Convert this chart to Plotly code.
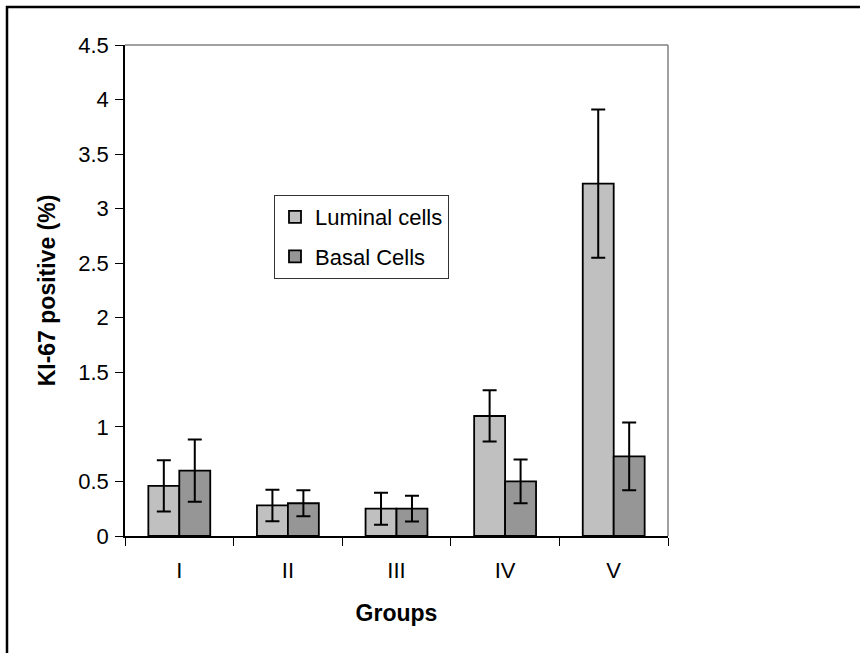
import plotly.graph_objects as go

# Ki-67 labelling index per treatment group
groups = ["I", "II", "III", "IV", "V"]
luminal = [0.46, 0.28, 0.25, 1.10, 3.23]
luminal_err = [0.235, 0.145, 0.147, 0.235, 0.68]
basal = [0.60, 0.30, 0.25, 0.50, 0.73]
basal_err = [0.285, 0.12, 0.118, 0.20, 0.31]
y_ticks = [0, 0.5, 1, 1.5, 2, 2.5, 3, 3.5, 4, 4.5]

FONT = "Liberation Sans, Arial, sans-serif"
W, H = 860, 653
L, R, T, B = 125, 192, 45, 117
pw, ph = W - L - R, H - T - B


def px_x(x):
    return (x - L) / pw


def px_y(y):
    return (H - B - y) / ph


fig = go.Figure()
fig.add_trace(go.Bar(
    x=groups, y=luminal, name="Luminal cells",
    marker=dict(color="#C0C0C0", line=dict(color="black", width=1.8)),
    error_y=dict(type="data", array=luminal_err, color="black", thickness=2, width=7),
    legendgroup="a",
))
fig.add_trace(go.Bar(
    x=groups, y=basal, name="Basal Cells",
    marker=dict(color="#969696", line=dict(color="black", width=1.8)),
    error_y=dict(type="data", array=basal_err, color="black", thickness=2, width=7),
    legendgroup="b",
))

# outer frame (left and top edges of the chart border)
fig.add_shape(type="rect", xref="paper", yref="paper",
              x0=px_x(7), x1=px_x(880), y0=px_y(680), y1=px_y(7),
              line=dict(color="black", width=2.5), layer="below")
# grey top/right edges of the plot area
fig.add_shape(type="line", xref="paper", yref="paper", x0=0, x1=1, y0=1, y1=1,
              line=dict(color="#808080", width=1.5))
fig.add_shape(type="line", xref="paper", yref="paper", x0=1, x1=1, y0=0, y1=1,
              line=dict(color="#808080", width=1.5))

fig.update_layout(
    width=W, height=H,
    margin=dict(l=L, r=R, t=T, b=B),
    paper_bgcolor="white", plot_bgcolor="white",
    barmode="group", bargap=0.43, bargroupgap=0,
    font=dict(family=FONT, color="black", size=22),
    showlegend=True,
    legend=dict(
        x=px_x(274), y=px_y(195), xanchor="left", yanchor="top",
        bgcolor="white", bordercolor="#333333", borderwidth=1,
        font=dict(size=22, family=FONT, color="black"),
        traceorder="grouped", tracegroupgap=8, itemwidth=30,
    ),
    xaxis=dict(
        type="category", range=[-0.5, 4.5],
        showline=True, linecolor="black", linewidth=1.5,
        ticks="outside", ticklen=8, tickcolor="black", tickwidth=1,
        tickson="boundaries", showgrid=False,
        tickfont=dict(size=22), ticklabelstandoff=14,
        title=dict(text="<b>Groups</b>", font=dict(size=23), standoff=23),
    ),
    yaxis=dict(
        range=[0, 4.5], tickvals=y_ticks,
        ticktext=[f"{v:g}" for v in y_ticks],
        showline=True, linecolor="black", linewidth=1.5,
        ticks="outside", ticklen=8, tickcolor="black", tickwidth=1,
        showgrid=False, zeroline=False,
        tickfont=dict(size=22), ticklabelstandoff=2,
        title=dict(text="<b>KI-67 positive (%)</b>", font=dict(size=23), standoff=16),
    ),
)

fig.write_html("out.html")
